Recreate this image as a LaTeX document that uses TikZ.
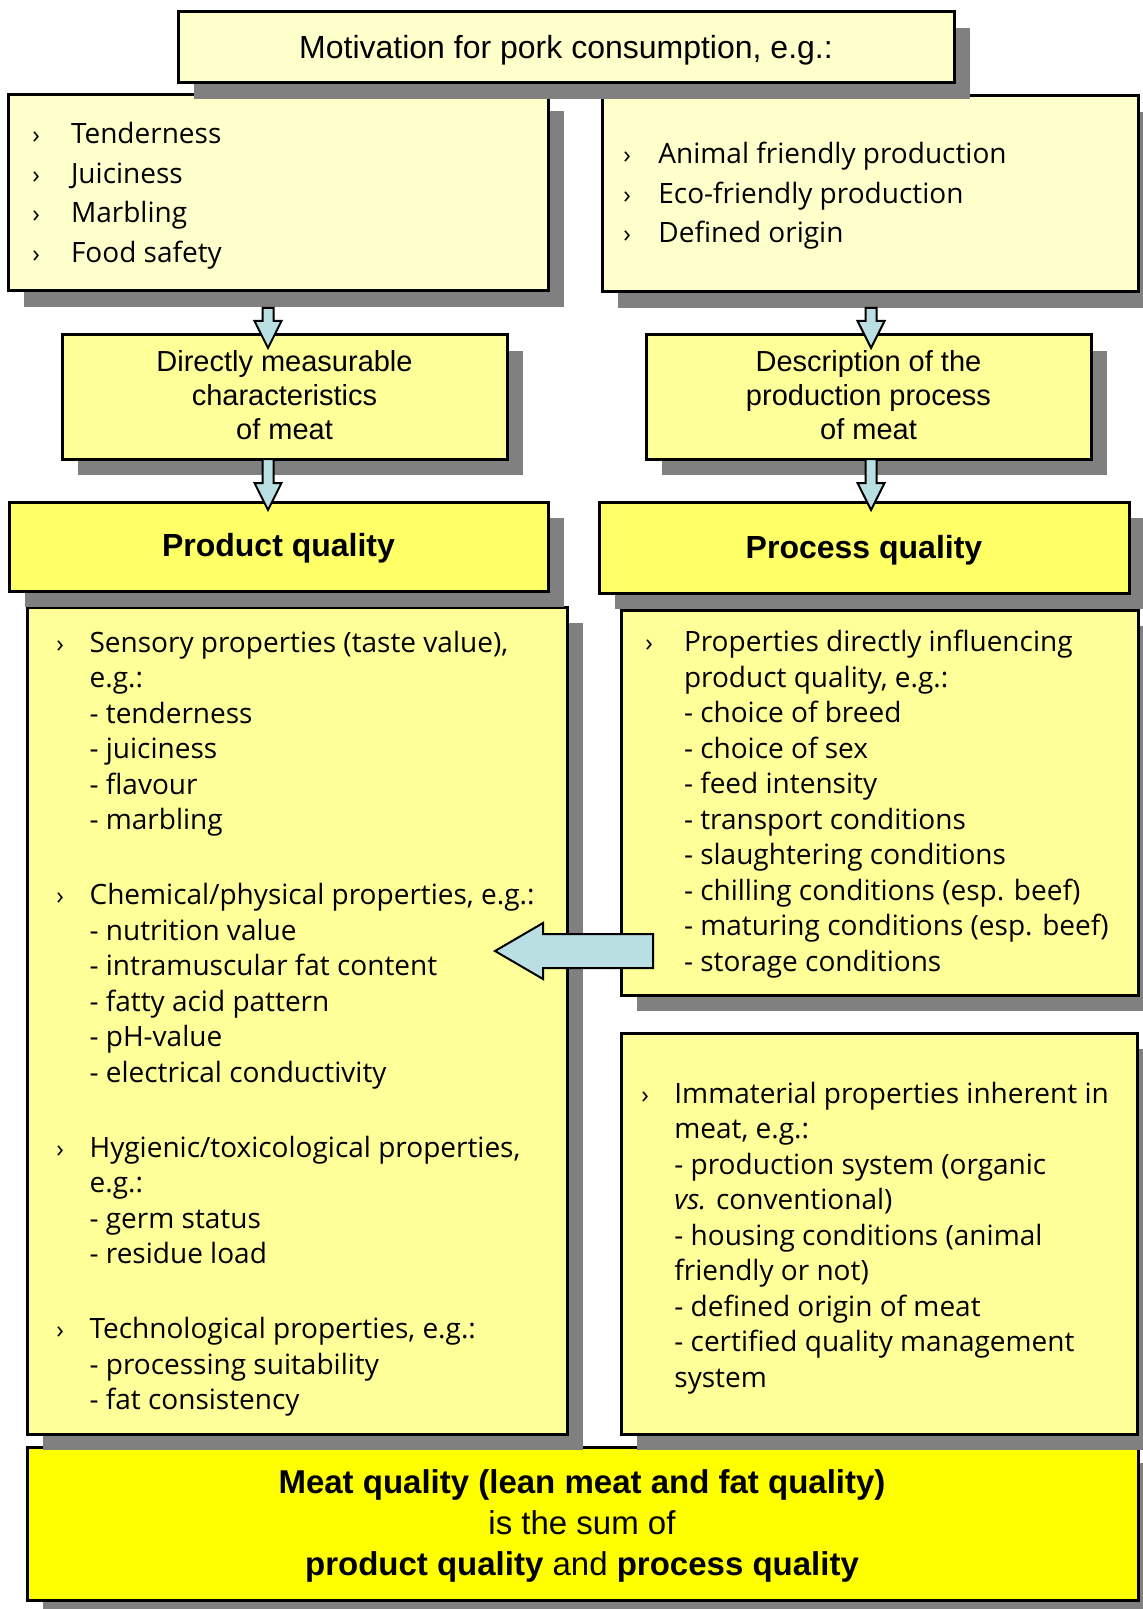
\documentclass[tikz,border=0pt]{standalone}
\usepackage{fontspec}
\setmainfont{Open Sans}
\newfontfamily\arialfont{Liberation Sans}
\usetikzlibrary{fit,shadows,calc}

\definecolor{palebox}{HTML}{FFFFCC}
\definecolor{midbox}{HTML}{FFFF99}
\definecolor{headbox}{HTML}{FFFF66}
\definecolor{sumbox}{HTML}{FFFF00}
\definecolor{shadowgray}{HTML}{808080}
\definecolor{arrowblue}{HTML}{B9DFE3}

\tikzset{
  qbox/.style={draw=black, line width=1.5pt, inner sep=0pt,
    drop shadow={shadow xshift=8pt, shadow yshift=-8pt, fill=shadowgray, opacity=1}},
  listtxt/.style={anchor=base west, inner sep=0pt, font=\fontsize{14}{17.75}\selectfont},
  toplist/.style={anchor=base west, inner sep=0pt, font=\fontsize{14}{19.7}\selectfont},
  arialtxt/.style={anchor=base, inner sep=0pt, font=\arialfont\fontsize{14.5}{16.85}\selectfont},
  headtxt/.style={anchor=base, inner sep=0pt, font=\arialfont\bfseries\fontsize{16}{19}\selectfont},
  blockarrow/.style={draw=black, line width=1pt, fill=arrowblue, line join=miter}
}
\newcommand{\blt}{{\fontsize{12.5}{12}\selectfont ›}}

\begin{document}
\begin{tikzpicture}[x=0.5pt, y=-0.5pt]
	\useasboundingbox (0,0) rectangle (1142,1609);
	% boxes, lowest first so that the shadows lie over the boxes below
	\node[qbox, fill=sumbox, fit={(27,1447) (1138,1600)}] (sumq) {};
	\node[qbox, fill=midbox, fit={(621,1033) (1137,1434)}] (immat) {};
	\node[qbox, fill=midbox, fit={(621,610) (1138,995)}] (proclist) {};
	\node[qbox, fill=midbox, fit={(27,607) (567,1434)}] (prodlist) {};
	\node[qbox, fill=headbox, fit={(599,502) (1129,593)}] (procq) {};
	\node[qbox, fill=headbox, fit={(9,502) (548,591)}] (prodq) {};
	\node[qbox, fill=midbox, fit={(646,335) (1091,459)}] (descr) {};
	\node[qbox, fill=midbox, fit={(62,335) (507,459)}] (measure) {};
	\node[qbox, fill=palebox, fit={(602,96) (1138,292)}] (ethic) {};
	\node[qbox, fill=palebox, fit={(8,95) (548,291)}] (senses) {};
	\node[qbox, fill=palebox, fit={(178,12) (954,83)}] (motiv) {};

	% texts
	\node[headtxt, font=\arialfont\fontsize{16}{19}\selectfont] (motivtxt) at (566,59)
		{Motivation for pork consumption, e.g.:};
	\node[toplist] (sensestxt) at (32,144) {\begin{tabular}[t]{@{}p{19.3pt}@{}l@{}}
		\blt & Tenderness\\ \blt & Juiciness\\ \blt & Marbling\\ \blt & Food safety
	\end{tabular}};
	\node[toplist] (ethictxt) at (623,164) {\begin{tabular}[t]{@{}p{17.5pt}@{}l@{}}
		\blt & Animal friendly production\\ \blt & Eco-friendly production\\ \blt & Defined origin
	\end{tabular}};
	\node[arialtxt] (measuretxt) at (284.5,371.7) {\begin{tabular}[t]{@{}c@{}}
		Directly measurable\\ characteristics\\ of meat
	\end{tabular}};
	\node[arialtxt] (descrtxt) at (868.5,371.7) {\begin{tabular}[t]{@{}c@{}}
		Description of the\\ production process\\ of meat
	\end{tabular}};
	\node[headtxt] (prodqtxt) at (278.5,556) {Product quality};
	\node[headtxt] (procqtxt) at (864,558) {Process quality};
	\node[listtxt] (prodlisttxt) at (56,652) {\begin{tabular}[t]{@{}p{16.6pt}@{}l@{}}
		\blt & Sensory properties (taste value),\\
		& e.g.:\\ & - tenderness\\ & - juiciness\\ & - flavour\\ & - marbling\\[19.75pt]
		\blt & Chemical/physical properties, e.g.:\\
		& - nutrition value\\ & - intramuscular fat content\\ & - fatty acid pattern\\
		& - pH-value\\ & - electrical conductivity\\[19.75pt]
		\blt & Hygienic/toxicological properties,\\
		& e.g.:\\ & - germ status\\ & - residue load\\[19.75pt]
		\blt & Technological properties, e.g.:\\
		& - processing suitability\\ & - fat consistency
	\end{tabular}};
	\node[listtxt] (proclisttxt) at (645,651.7) {\begin{tabular}[t]{@{}p{19.3pt}@{}l@{}}
		\blt & Properties directly influencing\\
		& product quality, e.g.:\\ & - choice of breed\\ & - choice of sex\\
		& - feed intensity\\ & - transport conditions\\ & - slaughtering conditions\\
		& - chilling conditions (esp. beef)\\ & - maturing conditions (esp. beef)\\
		& - storage conditions
	\end{tabular}};
	\node[listtxt] (immattxt) at (641,1103.4) {\begin{tabular}[t]{@{}p{16.5pt}@{}l@{}}
		\blt & Immaterial properties inherent in\\
		& meat, e.g.:\\ & - production system (organic\\ & \textit{vs.} conventional)\\
		& - housing conditions (animal\\ & friendly or not)\\
		& - defined origin of meat\\ & - certified quality management\\ & system
	\end{tabular}};
	\node[headtxt, font=\arialfont\fontsize{16.5}{20.5}\selectfont] (sumqtxt) at (582,1493) {\begin{tabular}[t]{@{}c@{}}
		\textbf{Meat quality (lean meat and fat quality)}\\
		is the sum of\\
		\textbf{product quality} and \textbf{process quality}
	\end{tabular}};

	% block arrows
	\coordinate (a1s) at (268,308);   \coordinate (a1t) at (268,348);
	\coordinate (a2s) at (268,459);   \coordinate (a2t) at (268,510);
	\coordinate (b1s) at (871,308);   \coordinate (b1t) at (871,348);
	\coordinate (b2s) at (871,459);   \coordinate (b2t) at (871,510);
	\coordinate (cs) at (653,951);    \coordinate (ct) at (495,951);
	\foreach \s/\t in {a1s/a1t, a2s/a2t, b1s/b1t, b2s/b2t}
		\draw[blockarrow] ($(\s)+(-5.5,0)$) -- ($(\t)+(-5.5,-27)$) -- ($(\t)+(-13.5,-27)$) -- (\t)
			-- ($(\t)+(13.5,-27)$) -- ($(\t)+(5.5,-27)$) -- ($(\s)+(5.5,0)$) -- cycle;
	\draw[blockarrow] ($(cs)+(0,-17)$) -- ($(ct)+(48,-17)$) -- ($(ct)+(48,-28)$) -- (ct)
		-- ($(ct)+(48,28)$) -- ($(ct)+(48,17)$) -- ($(cs)+(0,17)$) -- cycle;
\end{tikzpicture}
\end{document}
